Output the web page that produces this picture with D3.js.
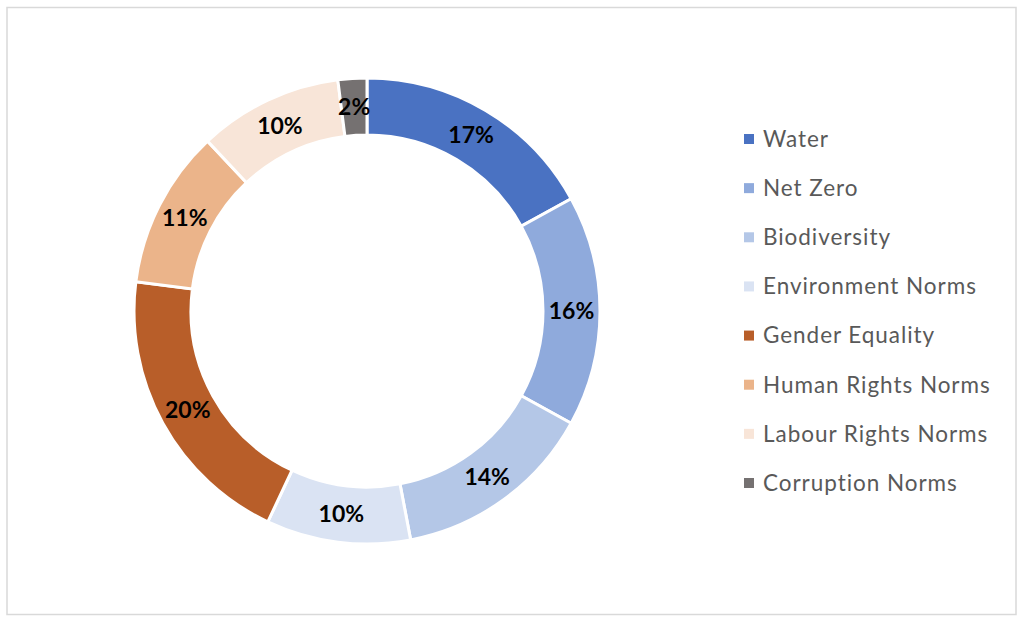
<!DOCTYPE html>
<html><head><meta charset="utf-8">
<script src="https://cdn.jsdelivr.net/npm/d3@7"></script>
<style>body{margin:0;background:#fff}svg{display:block}</style>
</head><body>
<script>
const categories = ["Water","Net Zero","Biodiversity","Environment Norms","Gender Equality","Human Rights Norms","Labour Rights Norms","Corruption Norms"];
const values = [17,16,14,10,20,11,10,2];
const colors = ["#4A72C2","#8FAADC","#B4C7E7","#DAE3F3","#B85E29","#EBB48A","#F8E5D8","#757171"];

const W=1024,H=623;
const svg=d3.select("body").append("svg").attr("width",W).attr("height",H);
svg.append("rect").attr("x",7).attr("y",7.5).attr("width",1009).attr("height",607)
  .attr("fill","#fff").attr("stroke","#d9d9d9").attr("stroke-width",1.5);

const cx=367, cy=311, rOut=233, rIn=176;
const pie=d3.pie().sort(null).value(d=>d)(values);
const arc=d3.arc().innerRadius(rIn).outerRadius(rOut);
const g=svg.append("g").attr("transform",`translate(${cx},${cy})`);
g.selectAll("path").data(pie).join("path")
  .attr("d",arc).attr("fill",(d,i)=>colors[i])
  .attr("stroke","#fff").attr("stroke-width",3);
g.selectAll("text").data(pie).join("text")
  .attr("transform",d=>`translate(${arc.centroid(d)})`)
  .attr("text-anchor","middle").attr("dy","0.36em")
  .attr("font-family","Lato, sans-serif").attr("font-weight","bold")
  .attr("font-size",23).attr("fill","#000")
  .text(d=>d.value+"%");

const y=d3.scalePoint().domain(categories).range([139,483]);
const lg=svg.append("g");
const items=lg.selectAll("g").data(categories).join("g")
  .attr("transform",d=>`translate(744,${y(d)})`);
items.append("rect").attr("x",0).attr("y",-5).attr("width",10).attr("height",10)
  .attr("fill",(d,i)=>colors[i]);
items.append("text").attr("x",19).attr("dy","0.35em")
  .attr("font-family","Lato, sans-serif").attr("font-size",22.5).attr("letter-spacing","0.95px").attr("fill","#595959")
  .text(d=>d);
</script>
</body></html>
